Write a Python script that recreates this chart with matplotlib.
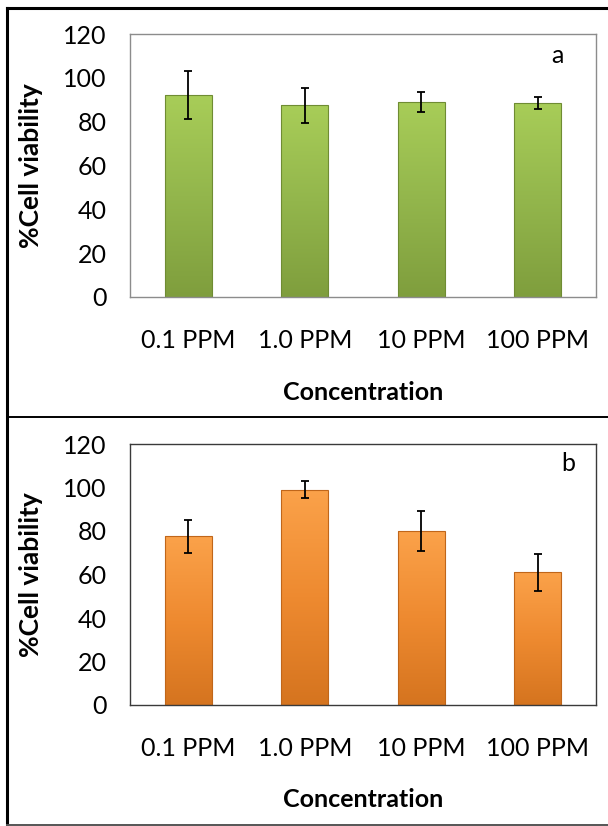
import numpy as np
import matplotlib
matplotlib.use("Agg")
import matplotlib.pyplot as plt
from matplotlib.colors import LinearSegmentedColormap
from matplotlib.lines import Line2D

categories = ["0.1 PPM", "1.0 PPM", "10 PPM", "100 PPM"]
viability_a = [92.0, 87.5, 89.0, 88.7]
error_a = [11.0, 8.0, 4.7, 2.7]
viability_b = [77.5, 99.0, 80.0, 61.0]
error_b = [7.5, 4.0, 9.0, 8.5]
yticks = [0, 20, 40, 60, 80, 100, 120]
panel_labels = ["a", "b"]

plt.rcParams['font.family'] = ['Lato', 'DejaVu Sans']

fig = plt.figure(figsize=(6.08, 8.26), dpi=100)

W, H = 608, 826
def ax_rect(left, right, top, bottom):
    return [left / W, 1 - bottom / H, (right - left) / W, (bottom - top) / H]

green_cmap = LinearSegmentedColormap.from_list("g", ["#7f9e3d", "#93b64c", "#a8cd58"])
orange_cmap = LinearSegmentedColormap.from_list("o", ["#d5741f", "#ee8a30", "#fba24a"])

panels = [
    (ax_rect(130, 596, 34, 297), viability_a, error_a, green_cmap, "#6f8c33", "#8c8c8c", panel_labels[0], (0.918, 0.92)),
    (ax_rect(130, 596, 444, 705), viability_b, error_b, orange_cmap, "#c0661a", "#3a3a3a", panel_labels[1], (0.94, 0.927)),
]

x = np.arange(len(categories))
for rect, vals, errs, cmap, edge, spine_col, lab, labpos in panels:
    ax = fig.add_axes(rect)
    bars = ax.bar(x, vals, width=0.40, color="none", edgecolor=edge, linewidth=0.8, zorder=2)
    grad = np.linspace(0, 1, 256).reshape(-1, 1)
    for b in bars:
        x0, w, h = b.get_x(), b.get_width(), b.get_height()
        im = ax.imshow(grad, cmap=cmap, origin="lower", aspect="auto",
                       extent=[x0, x0 + w, 0, h], zorder=1.5, interpolation="bicubic")
        im.set_clip_path(b)
    ax.errorbar(x, vals, yerr=errs, fmt="none", ecolor="black", elinewidth=1.3,
                capsize=3, capthick=1.3, zorder=3)
    ax.set_xlim(-0.5, 3.5)
    ax.set_ylim(0, 120)
    ax.set_yticks(yticks)
    ax.set_xticks(x)
    ax.set_xticklabels(categories)
    ax.tick_params(axis="both", length=0, labelsize=18)
    ax.tick_params(axis="y", pad=17)
    ax.tick_params(axis="x", pad=23)
    for s in ax.spines.values():
        s.set_color(spine_col)
        s.set_linewidth(1.0)
    ax.set_ylabel("%Cell viability", fontsize=19, fontweight="bold")
    ax.yaxis.set_label_coords(-0.187, 0.5)
    ax.set_xlabel("Concentration", fontsize=18, fontweight="bold")
    ax.xaxis.set_label_coords(0.501, -0.318)
    ax.text(labpos[0], labpos[1], lab, transform=ax.transAxes, fontsize=18,
            ha="center", va="center")

def fline(xs, ys, **kw):
    fig.add_artist(Line2D([v / W for v in xs], [1 - v / H for v in ys],
                          transform=fig.transFigure, **kw))

fline([7, 7], [8, 826], color="black", linewidth=2.2)
fline([7, 608], [8, 8], color="black", linewidth=2.2)
fline([7, 608], [417, 417], color="black", linewidth=1.4)
fline([7, 608], [825, 825], color="#555555", linewidth=1.4)

fig.savefig("out.png", dpi=100)
